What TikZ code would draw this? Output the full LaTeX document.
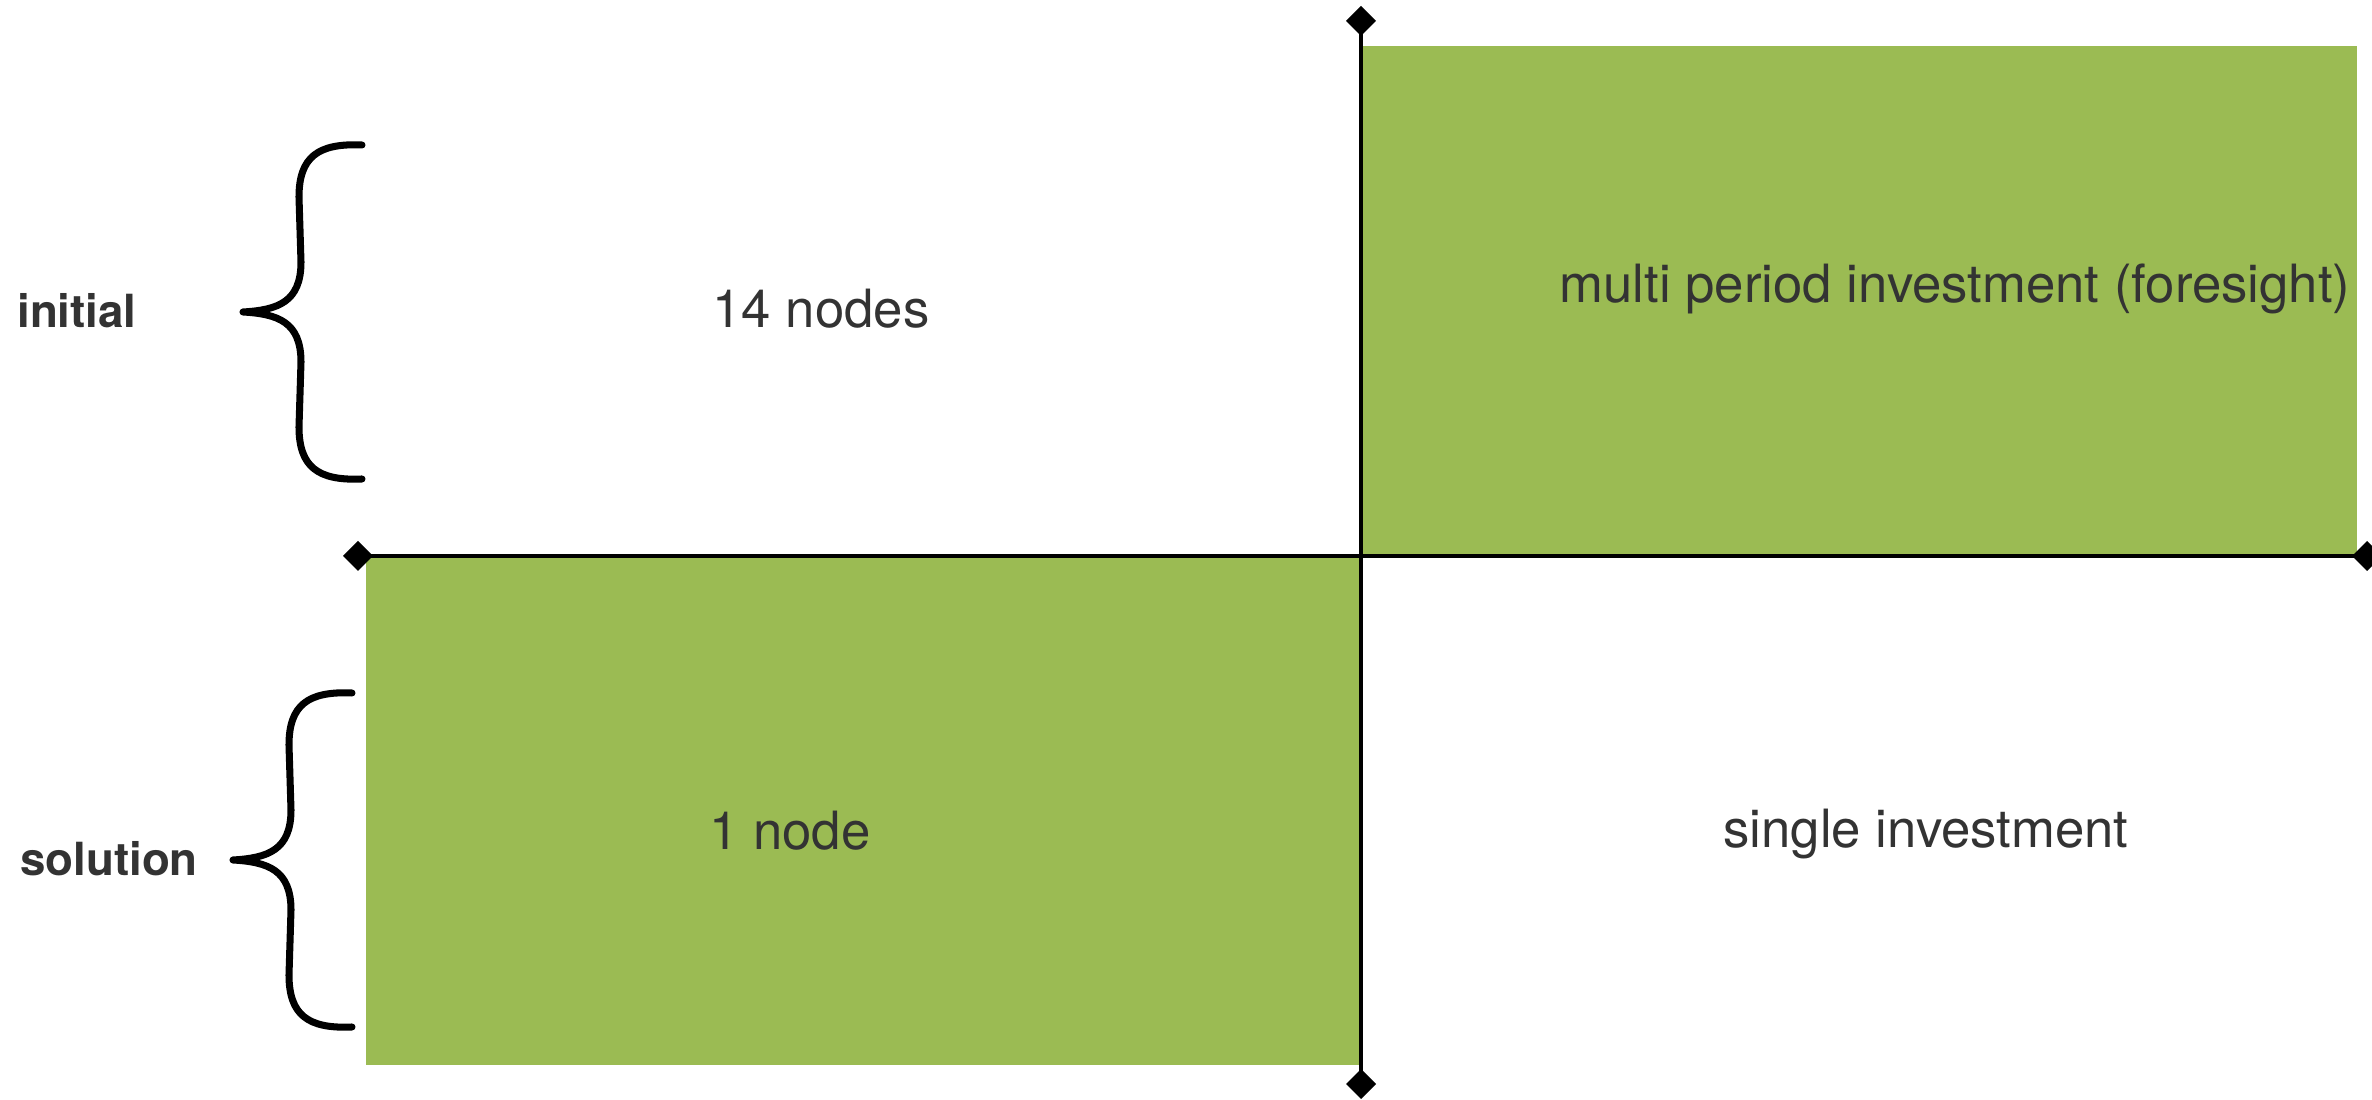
\documentclass[tikz,border=0pt]{standalone}
\usepackage{fontspec}
\setmainfont{TeX Gyre Heros}
\usetikzlibrary{arrows.meta}
\definecolor{panelgreen}{RGB}{155,187,83}
\definecolor{inkgrey}{RGB}{51,51,51}
\tikzset{
  panel/.style={fill=panelgreen,draw=none},
  caption/.style={text=inkgrey,font=\fontsize{15}{18}\selectfont,inner sep=0pt,anchor=base},
  rowlabel/.style={text=inkgrey,font=\bfseries\fontsize{13}{16}\selectfont,inner sep=0pt,anchor=base},
  quadline/.style={draw=black,line width=1.2pt,{Diamond[length=3mm,width=3mm]}-{Diamond[length=3mm,width=3mm]}},
  curly/.pic={
    \draw[line width=2pt,line cap=round,line join=round]
      (1.19,1.67) .. controls (0.75,1.69) and (0.56,1.55) .. (0.56,1.15)
      -- (0.58,0.5) .. controls (0.58,0.1) and (0.35,0.02) .. (0,0)
      .. controls (0.35,-0.02) and (0.58,-0.1) .. (0.58,-0.5)
      -- (0.56,-1.15) .. controls (0.56,-1.55) and (0.75,-1.69) .. (1.19,-1.67);
  }
}

\begin{document}
\begin{tikzpicture}
  \useasboundingbox (0,0) rectangle (23.72,11);

  \fill[panel] (13.62,5.45) rectangle (23.57,10.54);
  \fill[panel] (3.66,0.35) rectangle (13.60,5.42);

  \coordinate (top) at (13.61,10.94);
  \coordinate (bottom) at (13.61,0.01);
  \coordinate (left) at (3.43,5.44);
  \coordinate (right) at (23.82,5.44);

  \draw[quadline] (top) -- (bottom);
  \draw[quadline] (left) -- (right);

  \node[caption] (fourteen) at (8.21,7.72) {14 nodes};
  \node[caption] (multi) at (19.55,7.97) {multi period investment (foresight)};
  \node[caption] (onenode) at (7.90,2.50) {1 node};
  \node[caption] (single) at (19.26,2.52) {single investment};

  \node[rowlabel] (initial) at (0.77,7.72) {initial};
  \node[rowlabel] (solution) at (1.09,2.24) {solution};

  \pic at (2.43,7.88) {curly};
  \pic at (2.33,2.40) {curly};
\end{tikzpicture}
\end{document}
